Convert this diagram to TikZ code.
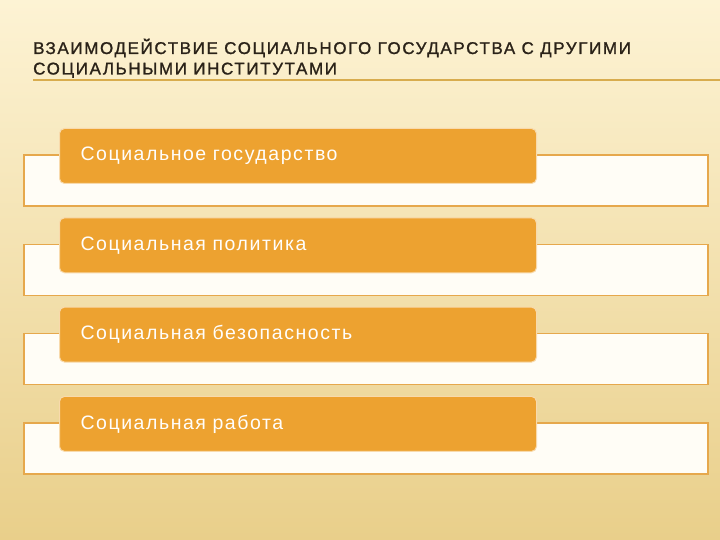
\documentclass[tikz,border=0pt]{standalone}
\usepackage{fontspec}
\setmainfont{Liberation Sans}
\newfontfamily\titlefont[LetterSpace=9.5,FakeBold=1.2]{Liberation Sans}
\newfontfamily\itemfont[LetterSpace=8,WordSpace=1.6]{Liberation Sans}
\definecolor{bgtop}{HTML}{FDF3D4}
\definecolor{bgbottom}{HTML}{E9CF8A}
\definecolor{frameline}{HTML}{E6A84C}
\definecolor{itemfill}{HTML}{EDA230}
\definecolor{titletext}{HTML}{2A2218}
\definecolor{ruleline}{HTML}{D8AC4E}
\tikzset{
  backbox/.style={draw=frameline, line width=1.5pt, fill=white!80!bgtop},
  itembox/.style={fill=itemfill, draw=white!60!itemfill, line width=1pt, rounded corners=5pt,
    minimum width=477pt, minimum height=55pt, text width=435pt, inner xsep=21pt, align=left,
    anchor=north west, text=white!92!bgtop, font=\itemfont\fontsize{19.5}{22}\selectfont},
  titleline/.style={anchor=base west, inner sep=0pt, text=titletext,
    font=\titlefont\fontsize{17}{20}\selectfont}
}
\begin{document}
\begin{tikzpicture}[x=1pt, y=-1pt]
	\shade[top color=bgtop, bottom color=bgbottom] (0,0) rectangle (720,540);
	\useasboundingbox (0,0) rectangle (720,540);
	% title
	\node[titleline] (title1) at (33,54) {ВЗАИМОДЕЙСТВИЕ СОЦИАЛЬНОГО ГОСУДАРСТВА С ДРУГИМИ};
	\node[titleline] (title2) at (33,74.5) {СОЦИАЛЬНЫМИ ИНСТИТУТАМИ};
	\draw[ruleline, line width=1.5pt] (33,80) -- (720,80);
	% rows
	\foreach \txt [count=\i] in {Социальное государство, Социальная политика, Социальная безопасность, Социальная работа}{
		\draw[backbox] (24,{155+89.3*(\i-1)}) rectangle ++(684,51);
		\node[itembox] (item\i) at (59,{128+89.3*(\i-1)}) {\txt};
	}
\end{tikzpicture}
\end{document}
